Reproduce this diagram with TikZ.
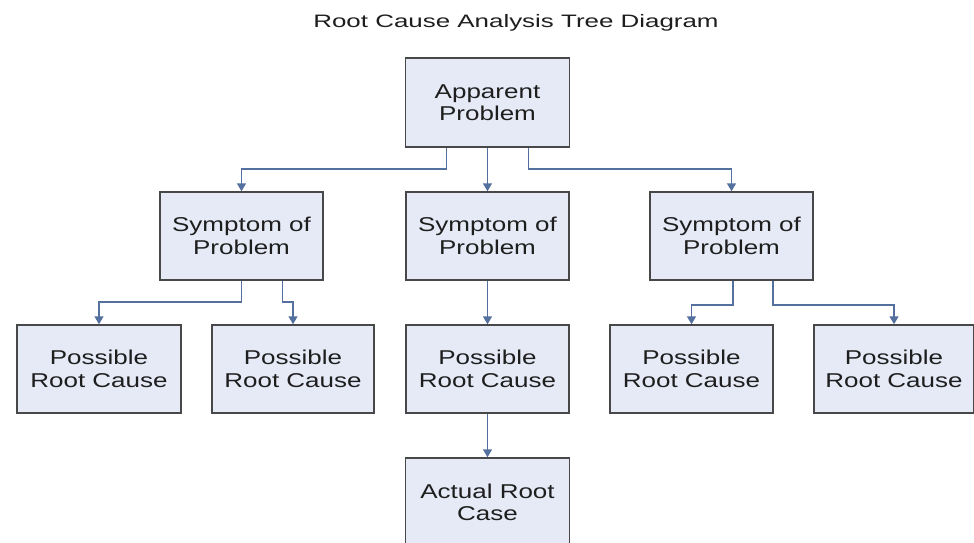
\documentclass[tikz,border=0pt]{standalone}
\usepackage{fontspec}
\usepackage{tikz}
\usetikzlibrary{arrows.meta,positioning,calc}
\newfontfamily\boxfont{Liberation Sans}[FakeStretch=1.3]
\newfontfamily\titlefont{Liberation Sans}[FakeStretch=1.44]
\definecolor{BoxFill}{RGB}{229,234,246}
\definecolor{BoxLine}{RGB}{72,72,72}
\definecolor{LinkBlue}{RGB}{84,112,158}
\definecolor{TextGray}{RGB}{30,30,30}
\tikzset{
  causebox/.style={draw=BoxLine,fill=BoxFill,line width=1.5pt,minimum width=163pt,minimum height=88pt,inner sep=0pt,align=center,text=TextGray,font=\boxfont\fontsize{20}{22.4}\selectfont},
  link/.style={-{Triangle[length=8pt,width=9pt]},draw=LinkBlue,line width=1.6pt},
  heading/.style={anchor=base,text=TextGray,font=\titlefont\fontsize{18}{20}\selectfont}
}
\begin{document}
\begin{tikzpicture}[x=1pt,y=-1pt]
\useasboundingbox[fill=white] (0,0) rectangle (974,542);
\node[heading] (title) at (516,27) {Root Cause Analysis Tree Diagram};

\node[causebox,minimum width=164pt,minimum height=89pt] (app) at (487.5,102.5) {Apparent\\Problem};
\node[causebox] (sym1) at (241.5,236) {Symptom of\\Problem};
\node[causebox] (sym2) at (487.5,236) {Symptom of\\Problem};
\node[causebox] (sym3) at (731.5,236) {Symptom of\\Problem};
\node[causebox,minimum width=164pt] (pos1) at (99,369) {Possible\\Root Cause};
\node[causebox,minimum width=162pt] (pos2) at (293,369) {Possible\\Root Cause};
\node[causebox] (pos3) at (487.5,369) {Possible\\Root Cause};
\node[causebox] (pos4) at (691.5,369) {Possible\\Root Cause};
\node[causebox,minimum width=160pt] (pos5) at (894,369) {Possible\\Root Cause};
\node[causebox,minimum width=164pt,minimum height=89pt] (act) at (487.5,502.5) {Actual Root\\Case};

\draw[link]([xshift=-41pt]app.south)--++(0,21)-|(sym1.north);\draw[link](app.south)--(sym2.north);\draw[link]([xshift=41pt]app.south)--++(0,21)-|(sym3.north);
\draw[link](sym1.south)--++(0,21)-|(pos1.north);\draw[link]([xshift=41pt]sym1.south)--++(0,21)-|(pos2.north);
\draw[link](sym2.south)--(pos3.north);
\draw[link]([xshift=1.5pt]sym3.south)--++(0,24)-|(pos4.north);\draw[link]([xshift=41.5pt]sym3.south)--++(0,24)-|(pos5.north);
\draw[link](pos3.south)--(act.north);
\end{tikzpicture}
\end{document}
